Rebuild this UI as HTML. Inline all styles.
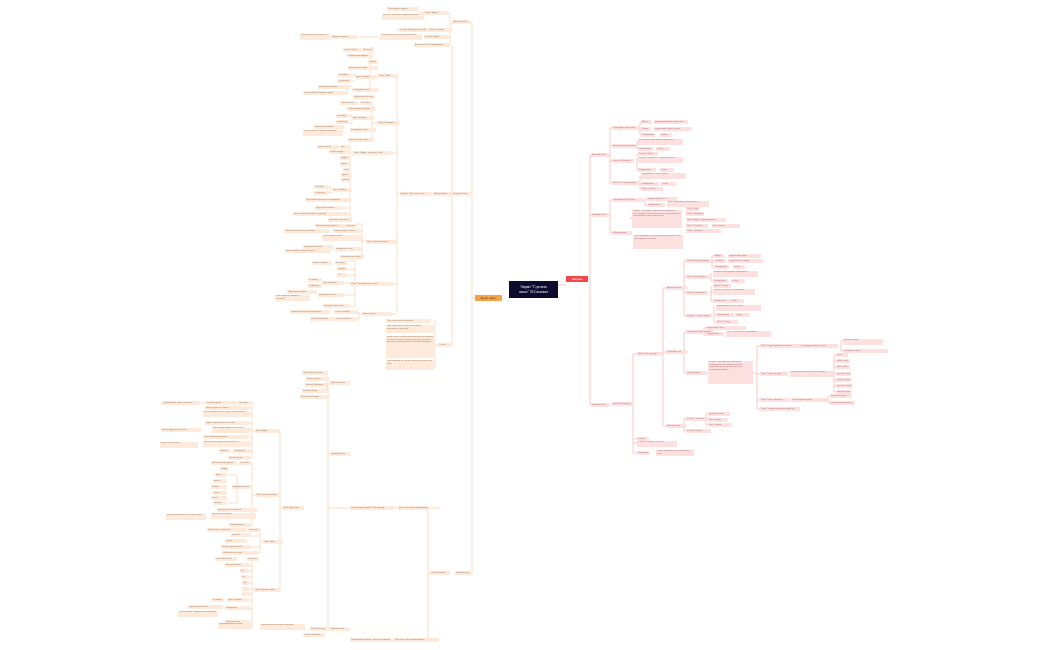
<!DOCTYPE html>
<html><head><meta charset="utf-8"><style>
html,body{margin:0;padding:0;background:#fff;width:1050px;height:650px;overflow:hidden}
#w{position:relative;width:1050px;height:650px}
svg{position:absolute;left:0;top:0}
i{position:absolute;font-style:normal;height:4px;font:2.2px/4px "Liberation Sans","Noto Sans CJK SC",sans-serif;color:#a07a5c;background:#fdeadb;white-space:nowrap;overflow:hidden;padding:0 1px;box-sizing:border-box;border-radius:.5px}
i.r{background:#fde0e0;color:#b07070}
i.t{height:6px;white-space:normal;line-height:2.6px}
</style></head><body><div id="w">
<svg width="1050" height="650" viewBox="0 0 1050 650">
<g fill="none" stroke="#f9d2ad" stroke-width="0.7">
<path d="M502 298H472M472 22V572M472 22H470M472 193H470M472 572H473"/>
<path d="M452 24H450V45H450M450 13V37M450 13H448M450 30H452M450 37H450M424 13H419M424 18H419M428 30H435M399 30H396M380 37H357M331 37H328"/>
<path d="M452 45V345H450M438 345H435V320M435 330V368H434"/>
<path d="M452 194H433M433 194H432M400 194H397M397 76V313M397 76H398M397 123H399M397 153H391M397 242H396M397 284H394M397 314H392"/>
<path d="M370 48V96M370 76H378M370 48H374M370 55H373M370 61H378M370 67H378M370 89H378M370 96H375M355 76V73M338 75H355M338 81H355M348 91V86H352"/>
<path d="M372 102V140M372 123H377M372 102H372M372 108H375M372 129H376M372 140H374M352 116V123M349 116H352M349 123H352"/>
<path d="M350 146V220M350 153H353M350 146H350M350 151H351M350 157H350M350 163H350M350 169H350M350 174H350M350 180H350M350 190H352M350 200H350M350 208H343M350 220H352M330 187V193M328 187H332M328 193H332"/>
<path d="M362 224V257M362 241H366M362 224H357M362 231H361M362 238H362M362 249H361M362 257H364M333 247V251"/>
<path d="M355 261V306M355 284H350M355 261H347M355 269H347M355 275H347M355 283H344M355 295H344M355 306H349"/>
<path d="M359 312V319M359 314H362M359 312H358M359 319H357"/>
<path d="M472 572H455M430 573H428M428 508V640M428 508H440M428 640H439M394 508H398M394 640H394"/>
<path d="M350 508H328M328 383V629M328 383H330M328 454H330M328 629H330M310 629H330"/>
<path d="M327 372V392M327 372H328M327 378H330M327 384H327M327 390H328M327 396H330"/>
<path d="M282 508H280M280 431V590M280 431H280M280 495H280M280 542H283M280 590H280"/>
<path d="M252 402V458M252 431H255M252 402H251M252 408H250M252 414H251M252 423H250M252 429H250M252 437H248M252 444H251M252 451H252M252 458H250M238 403H236M206 403H200"/>
<path d="M252 463V526M252 495H255M252 463H251M252 488H252M252 510H257M252 516H256M252 526H251M237 475V503M228 475H237M228 503H237"/>
<path d="M260 529V553M260 541H263M260 530H260M260 536H251M260 547H251M260 553H258"/>
<path d="M252 558V622M252 590H254M252 559H259M252 566H250M252 571H248M252 577H249M252 583H249M252 589H249M252 594H250M252 600H247M252 609H250M252 622H250"/>
</g>
<g fill="none" stroke="#f7b4b4" stroke-width="0.7">
<path d="M558 285H566M588 279H590M590 155V405M590 155H591M590 215H591M590 405H591"/>
<path d="M611 155H610M610 128V183M610 128H612M610 146H612M610 161H612M610 183H612M640 122V135M640 122H641M640 129H641M640 135H641M637 141V149M637 149H638M637 142H638M637 154V170M637 160H638M637 170H638M640 176V189M640 184H641M640 189H641"/>
<path d="M611 215H610M610 200V233M610 200H612M610 233H612M645 199V205M645 199H647M645 205H647M630 218H632"/>
<path d="M611 405H612M634 404H633M633 354V453M633 354H637M633 439H637M633 443H637M633 453H637"/>
<path d="M662 354H663M663 288V426M663 288H666M663 352H666M663 426H666"/>
<path d="M688 288H684M684 261V316M684 261H686M684 277H686M684 293H686M684 316H686M712 256V267M712 256H714M712 261H714M712 267H714M711 273V281M711 281H713M711 286V301M711 292H713M711 301H713M714 307V322M714 315H716M714 322H716"/>
<path d="M688 352H684M684 332V373M684 332H686M684 373H686M704 328V335M704 328H706M704 335H706M706 373H708"/>
<path d="M753 373H757M757 346V409M757 346H760M757 374H760M757 400H760M757 409H760M841 341V351M841 341H843M841 351H843M834 355V392M834 355H836M834 361H836M834 367H836M834 374H836M834 380H836M834 386H836M834 392H836M828 396V403M828 396H830M828 403H830"/>
<path d="M686 426H684M684 419V431M684 419H686M684 431H686M706 414V425M706 414H708M706 420H708M706 425H708"/>
</g>
</svg>
<div style="position:absolute;left:509px;top:281px;width:49px;height:17px;background:#0d0b2e;color:#fff;font:4px/5px 'Liberation Serif','Noto Serif CJK SC',serif;text-align:center;padding-top:3px;box-sizing:border-box">Экран "Сделать<br>заказ" Я.Самокат</div>
<div style="position:absolute;left:566px;top:276px;width:22px;height:6px;background:#f04848;color:#fff;font:2.8px/6px 'Liberation Sans',sans-serif;text-align:center">Покупка</div>
<div style="position:absolute;left:475px;top:295px;width:27px;height:6px;background:#f5a24a;color:#5a3a10;font:2.8px/6px 'Liberation Sans',sans-serif;text-align:center">Фронт работ</div>

<i style="left:387px;top:7px;width:32px">Поле ввода адреса</i>
<i class="t" style="left:382px;top:14px;width:42px">Кнопка "Изменить" адрес доставки</i>
<i style="left:424px;top:11px;width:24px">Поле "Адрес"</i>
<i style="left:452px;top:20px;width:18px">Верхний блок</i>
<i style="left:399px;top:28px;width:36px">Кнопка "Вернуться назад"</i>
<i style="left:428px;top:28px;width:24px">Кнопка "Назад"</i>
<i class="t" style="left:380px;top:34px;width:42px">При нажатии на кнопку "Изменить"</i>
<i style="left:331px;top:35px;width:26px">Модалка адреса</i>
<i class="t" style="left:300px;top:34px;width:30px">При нажатии открывается</i>
<i style="left:424px;top:35px;width:26px">Кнопка "Адрес"</i>
<i style="left:414px;top:43px;width:36px">Блок оплата и информация</i>

<i style="left:343px;top:48px;width:18px">стиль текста</i><i style="left:362px;top:48px;width:12px">тип поля</i>
<i style="left:347px;top:54px;width:26px">плейсхолдер Адрес</i><i style="left:368px;top:60px;width:10px">шрифт</i>
<i style="left:348px;top:66px;width:30px">длина поля ввода</i>
<i style="left:338px;top:73px;width:13px">по клику</i><i style="left:338px;top:79px;width:13px">по фокусу</i><i style="left:355px;top:75px;width:22px">цвет обводки</i>
<i style="left:378px;top:74px;width:20px">Поле "Мой"</i>
<i style="left:318px;top:85px;width:30px">подсказка ошибки</i><i style="left:303px;top:91px;width:45px">поле ошибки "Введите адрес"</i><i style="left:352px;top:88px;width:26px">валидация поля</i>
<i style="left:353px;top:95px;width:22px">обязательное поле</i>

<i style="left:340px;top:101px;width:18px">стиль текста</i><i style="left:360px;top:101px;width:12px">тип поля</i>
<i style="left:347px;top:107px;width:28px">плейсхолдер Кв/офис</i>
<i style="left:336px;top:114px;width:13px">по клику</i><i style="left:336px;top:120px;width:13px">по фокусу</i><i style="left:352px;top:116px;width:22px">цвет обводки</i>
<i style="left:377px;top:121px;width:22px">Поле "Квартира"</i>
<i style="left:314px;top:125px;width:30px">подсказка ошибки</i><i class="t" style="left:303px;top:130px;width:40px">поле ошибки "Введите квартиру"</i>
<i style="left:350px;top:128px;width:26px">валидация поля</i><i style="left:348px;top:138px;width:26px">обязательное поле</i>

<i style="left:317px;top:145px;width:22px">стиль текста</i><i style="left:340px;top:145px;width:10px">тип</i>
<i style="left:329px;top:150px;width:22px">плейсхолдер</i><i style="left:353px;top:151px;width:38px">Поле "Адрес, подъезд, этаж"</i>
<i style="left:340px;top:156px;width:10px">цифры</i><i style="left:340px;top:162px;width:10px">буквы</i><i style="left:343px;top:168px;width:7px">знак</i>
<i style="left:341px;top:173px;width:9px">длина</i><i style="left:341px;top:178px;width:9px">пробел</i>
<i style="left:314px;top:185px;width:14px">по клику</i><i style="left:314px;top:191px;width:14px">по фокусу</i><i style="left:332px;top:188px;width:20px">цвет обводки</i>
<i style="left:305px;top:198px;width:45px">При ошибке фокуса и валидации</i>
<i style="left:315px;top:206px;width:28px">подсказка ошибки</i><i style="left:293px;top:212px;width:55px">поле ошибки "Введите подъезд"</i>
<i style="left:328px;top:218px;width:24px">обязательное поле</i>
<i style="left:400px;top:192px;width:32px">Вопрос "Для чего связь"</i><i style="left:433px;top:192px;width:18px">Информация</i><i style="left:452px;top:192px;width:18px">Средний блок</i>

<i style="left:315px;top:224px;width:30px">максимальная длина</i><i style="left:345px;top:224px;width:12px">тип поля</i>
<i style="left:284px;top:229px;width:45px">описание заказа на странице</i><i style="left:333px;top:229px;width:28px">плейсхолдер Оплата</i>
<i class="t" style="left:322px;top:235px;width:40px">поле комментарий</i><i style="left:366px;top:240px;width:30px">Поле "Комментарий"</i>
<i style="left:303px;top:245px;width:30px">подсказка ошибки</i><i style="left:285px;top:249px;width:45px">поле ошибки "Введите текст"</i><i style="left:335px;top:247px;width:26px">валидация поля</i>
<i style="left:340px;top:255px;width:24px">обязательное поле</i>

<i style="left:312px;top:261px;width:20px">маска номера</i><i style="left:335px;top:261px;width:12px">тип поля</i>
<i style="left:337px;top:267px;width:10px">цифры</i><i style="left:337px;top:273px;width:10px">+7</i>
<i style="left:308px;top:278px;width:14px">по клику</i><i style="left:308px;top:284px;width:14px">по фокусу</i><i style="left:322px;top:281px;width:22px">цвет обводки</i>
<i style="left:350px;top:282px;width:44px">Поле "Телефон для связи"</i>
<i style="left:287px;top:290px;width:30px">подсказка ошибки</i><i class="t" style="left:275px;top:295px;width:35px">поле ошибки "Введите телефон"</i><i style="left:318px;top:293px;width:26px">валидация поля</i>
<i style="left:323px;top:304px;width:26px">обязательное поле</i>
<i style="left:290px;top:310px;width:40px">оплата картой при получении</i><i style="left:334px;top:310px;width:24px">способ оплаты</i>
<i style="left:310px;top:317px;width:25px">кнопка Изменить</i><i style="left:335px;top:317px;width:22px">способ оплаты</i><i style="left:362px;top:312px;width:30px">Блок оплаты</i>

<i style="left:386px;top:319px;width:45px">Текстовое поле описания</i>
<i class="t" style="left:386px;top:325px;width:48px;height:8px">При переходе на страницу заказа появляется описание</i>
<i class="t" style="left:386px;top:336px;width:48px;height:22px">Блок текста с описанием заказа и условиями доставки, обязательное поле для проверки данных и правильности заполнения формы</i>
<i class="t" style="left:386px;top:360px;width:48px;height:10px">При нажатии на кнопку Заказать появляется окно</i>
<i style="left:438px;top:343px;width:14px">Отзыв</i>

<i style="left:302px;top:371px;width:26px">Поле Верхний блок</i><i style="left:306px;top:377px;width:24px">Поле оплаты</i><i style="left:305px;top:383px;width:22px">Кнопка Изменить</i><i style="left:302px;top:389px;width:26px">Кнопка Назад</i><i style="left:300px;top:395px;width:30px">Кнопка Мой заказ</i>
<i style="left:330px;top:381px;width:20px">Верхний блок</i><i style="left:330px;top:452px;width:20px">Средний блок</i>
<i style="left:162px;top:401px;width:38px">отображение текста по полю</i><i style="left:206px;top:401px;width:30px">выбор адреса</i><i style="left:238px;top:401px;width:13px">тип поля</i>
<i style="left:205px;top:406px;width:45px">выбор адреса с карты</i>
<i class="t" style="left:203px;top:411px;width:48px">по нажатию на поле адрес отображается</i>
<i style="left:205px;top:421px;width:45px">адрес подставляется в поле</i>
<i class="t" style="left:212px;top:427px;width:38px">при выборе адреса из списка</i><i style="left:161px;top:428px;width:40px">выбор адреса из списка</i>
<i style="left:255px;top:429px;width:25px">Поле Адрес</i>
<i style="left:203px;top:435px;width:45px">поле подсказок адреса</i>
<i class="t" style="left:203px;top:441px;width:48px">при ошибке фокуса отображается</i><i class="t" style="left:160px;top:442px;width:38px">подсказка ошибки</i>
<i style="left:219px;top:449px;width:12px">ошибка</i><i style="left:233px;top:449px;width:18px">валидация</i><i style="left:228px;top:456px;width:22px">обязательное</i>

<i style="left:211px;top:461px;width:26px">максимальная длина</i><i style="left:239px;top:461px;width:12px">тип поля</i>
<i style="left:220px;top:467px;width:8px">цифры</i><i style="left:215px;top:473px;width:12px">дата</i><i style="left:213px;top:479px;width:14px">время</i><i style="left:211px;top:485px;width:16px">выбор</i><i style="left:213px;top:491px;width:14px">поле</i><i style="left:211px;top:496px;width:16px">часы</i><i style="left:213px;top:501px;width:14px">минуты</i>
<i style="left:232px;top:485px;width:20px">формат выбора</i><i style="left:255px;top:493px;width:25px">Поле Срок доставки</i>
<i style="left:217px;top:508px;width:40px">выбор даты и времени</i>
<i class="t" style="left:211px;top:513px;width:45px">при ошибке фокуса</i><i class="t" style="left:166px;top:514px;width:40px">подсказка ошибки "Выберите дату"</i>
<i style="left:229px;top:523px;width:22px">обязательное</i>
<i style="left:282px;top:506px;width:22px">Поле Мой заказ</i><i style="left:350px;top:506px;width:44px">Заполнение формы "Про аренду"</i><i style="left:398px;top:506px;width:30px">Для чего нужна информация</i>

<i style="left:207px;top:528px;width:40px">выбор цвета самоката</i><i style="left:248px;top:528px;width:12px">тип поля</i>
<i style="left:231px;top:533px;width:20px">черный</i><i style="left:225px;top:539px;width:22px">серый</i><i style="left:263px;top:540px;width:20px">Поле Цвет</i>
<i style="left:221px;top:545px;width:30px">выбор одного цвета</i><i style="left:222px;top:551px;width:36px">обязательное поле</i>

<i style="left:215px;top:557px;width:22px">текстовое поле</i><i style="left:247px;top:557px;width:12px">тип поля</i>
<i style="left:225px;top:563px;width:25px">максимальная</i><i style="left:240px;top:569px;width:8px">a-z</i><i style="left:241px;top:575px;width:8px">а-я</i><i style="left:242px;top:581px;width:7px">0-9</i><i style="left:242px;top:587px;width:7px">.</i><i style="left:242px;top:592px;width:8px">,</i>
<i style="left:212px;top:598px;width:12px">по клику</i><i style="left:227px;top:598px;width:20px">цвет обводки</i><i style="left:254px;top:588px;width:26px">Поле Комментарий</i>
<i style="left:188px;top:605px;width:35px">подсказка ошибки</i><i class="t" style="left:178px;top:611px;width:40px">поле ошибки "Введите комментарий"</i><i style="left:225px;top:606px;width:25px">валидация</i>
<i style="left:225px;top:620px;width:25px">обязательное</i>
<i class="t" style="left:218px;top:623px;width:35px">Информационное окно</i><i class="t" style="left:260px;top:624px;width:45px">При нажатии на кнопку Заказать</i>
<i style="left:310px;top:627px;width:20px">Кнопка Назад</i><i style="left:303px;top:633px;width:22px">Кнопка Заказать</i><i style="left:330px;top:627px;width:20px">Нижний блок</i>
<i style="left:350px;top:638px;width:44px">Заполнение формы "Для кого самокат"</i><i style="left:394px;top:638px;width:45px">Для чего нужна информация</i>
<i style="left:430px;top:571px;width:20px">Оплата заказа</i><i style="left:455px;top:571px;width:17px">Нижний блок</i>

<!-- right side -->
<i class="r" style="left:591px;top:153px;width:20px">Верхний блок</i>
<i class="r" style="left:612px;top:126px;width:28px">Поле Адрес доставки</i><i class="r" style="left:612px;top:144px;width:25px">Кнопка дата доставки</i><i class="r" style="left:612px;top:159px;width:22px">Кнопка "Изменить"</i><i class="r" style="left:612px;top:181px;width:28px">Кнопка "Статус заказа"</i>
<i class="r" style="left:641px;top:120px;width:10px">Адрес</i><i class="r" style="left:654px;top:120px;width:34px">корректный адрес доставки</i>
<i class="r" style="left:641px;top:127px;width:10px">Улица</i><i class="r" style="left:654px;top:127px;width:38px">корректный адрес улицы</i>
<i class="r" style="left:641px;top:133px;width:14px">Ожидаемое</i><i class="r" style="left:660px;top:133px;width:12px">статус</i>
<i class="r t" style="left:638px;top:139px;width:45px">кнопка даты доставки открывается</i><i class="r" style="left:638px;top:147px;width:15px">Ожидаемое</i><i class="r" style="left:656px;top:147px;width:14px">статус</i>
<i class="r" style="left:638px;top:152px;width:20px">Кнопка "Заказ"</i><i class="r t" style="left:638px;top:157px;width:45px">Кнопка "Изменить" открывает окно</i><i class="r" style="left:638px;top:168px;width:18px">Ожидаемое</i><i class="r" style="left:660px;top:168px;width:14px">статус</i>
<i class="r t" style="left:641px;top:173px;width:45px">корректный статус заказа</i><i class="r" style="left:641px;top:182px;width:18px">Ожидаемое</i><i class="r" style="left:661px;top:182px;width:15px">статус</i><i class="r" style="left:641px;top:187px;width:22px">Поле "Статус"</i>
<i class="r" style="left:591px;top:213px;width:20px">Средний блок</i>
<i class="r" style="left:612px;top:198px;width:32px">Заголовок "Про заказ"</i><i class="r" style="left:612px;top:231px;width:20px">Информация</i>
<i class="r" style="left:647px;top:197px;width:30px">корректный текст</i><i class="r" style="left:647px;top:203px;width:18px">Ожидаемое</i><i class="r t" style="left:667px;top:201px;width:42px">текст заголовка отображается</i>
<i class="r t" style="left:632px;top:210px;width:50px;height:18px">Форма "Про заказ" правильно отображает поля ввода, кнопки и текстовые подсказки для пользователя при заполнении</i>
<i class="r" style="left:686px;top:207px;width:14px">Поле "Имя"</i><i class="r" style="left:686px;top:212px;width:18px">Поле "Фамилия"</i><i class="r" style="left:686px;top:218px;width:40px">Поле "Адрес: куда привезти"</i><i class="r" style="left:686px;top:224px;width:22px">Поле "Станция"</i><i class="r" style="left:712px;top:224px;width:28px">Нет данных</i><i class="r" style="left:686px;top:229px;width:35px">Поле "Телефон"</i>
<i class="r t" style="left:633px;top:235px;width:50px;height:14px">При переходе на страницу отображаются все поля формы и кнопки</i>

<i class="r" style="left:591px;top:403px;width:18px">Нижний блок</i><i class="r" style="left:612px;top:402px;width:22px">Кнопка "Заказать"</i>
<i class="r" style="left:637px;top:352px;width:25px">Поле "Про аренду"</i>
<i class="r" style="left:637px;top:437px;width:12px">Кнопка</i><i class="r t" style="left:637px;top:441px;width:40px">Статус "Заказать" кнопки</i><i class="r" style="left:637px;top:451px;width:12px">Ожидаемое</i><i class="r t" style="left:656px;top:450px;width:38px">кнопка нажимается, открывается окно</i>
<i class="r" style="left:666px;top:286px;width:20px">Верхний блок</i><i class="r" style="left:666px;top:350px;width:20px">Средний блок</i><i class="r" style="left:666px;top:424px;width:20px">Нижний блок</i>
<i class="r" style="left:686px;top:259px;width:25px">Поле Выбор времени</i><i class="r" style="left:686px;top:275px;width:25px">Поле срок аренды</i><i class="r" style="left:686px;top:291px;width:22px">Кнопка "Изменить"</i><i class="r" style="left:686px;top:314px;width:26px">Кнопка "Статус заказа"</i>
<i class="r" style="left:714px;top:254px;width:10px">Адрес</i><i class="r" style="left:728px;top:254px;width:33px">корректный адрес</i>
<i class="r" style="left:714px;top:259px;width:12px">Станция</i><i class="r" style="left:728px;top:259px;width:35px">корректная станция</i>
<i class="r" style="left:714px;top:265px;width:15px">Ожидаемое</i><i class="r" style="left:733px;top:265px;width:12px">статус</i>
<i class="r t" style="left:713px;top:271px;width:45px">кнопка срок аренды открывается</i><i class="r" style="left:713px;top:279px;width:15px">Ожидаемое</i><i class="r" style="left:731px;top:279px;width:14px">статус</i>
<i class="r" style="left:713px;top:284px;width:18px">Кнопка "Заказ"</i><i class="r t" style="left:713px;top:289px;width:42px">Кнопка "Изменить" открывает</i><i class="r" style="left:713px;top:299px;width:18px">Ожидаемое</i><i class="r" style="left:730px;top:299px;width:14px">статус</i>
<i class="r t" style="left:716px;top:305px;width:45px">корректный статус заказа</i><i class="r" style="left:716px;top:313px;width:18px">Ожидаемое</i><i class="r" style="left:735px;top:313px;width:15px">статус</i><i class="r" style="left:716px;top:320px;width:22px">Поле "Статус"</i>
<i class="r" style="left:686px;top:330px;width:28px">Заголовок "Про аренду"</i><i class="r" style="left:706px;top:326px;width:40px">корректный текст</i><i class="r" style="left:706px;top:332px;width:18px">Ожидаемое</i><i class="r t" style="left:726px;top:331px;width:45px">текст заголовка отображается</i>
<i class="r" style="left:686px;top:371px;width:20px">Информация</i>
<i class="r t" style="left:708px;top:361px;width:45px;height:23px">Форма "Про аренду" правильно отображает поля ввода, кнопки и подсказки для пользователя при заполнении формы</i>
<i class="r" style="left:760px;top:344px;width:40px">Поле "Когда привезти самокат"</i><i class="r" style="left:800px;top:344px;width:38px">календарь выбора даты</i><i class="r t" style="left:843px;top:339px;width:40px">выбрать дату</i><i class="r" style="left:843px;top:349px;width:45px">выбранная дата</i>
<i class="r" style="left:760px;top:372px;width:28px">Поле "Срок аренды"</i><i class="r t" style="left:790px;top:371px;width:45px">выпадающий список срок аренды</i>
<i class="r" style="left:836px;top:353px;width:12px">сутки</i><i class="r" style="left:836px;top:359px;width:14px">двое суток</i><i class="r" style="left:836px;top:365px;width:14px">трое суток</i><i class="r" style="left:836px;top:372px;width:15px">четверо суток</i><i class="r" style="left:836px;top:378px;width:15px">пятеро суток</i><i class="r" style="left:836px;top:384px;width:16px">шестеро суток</i><i class="r" style="left:836px;top:390px;width:15px">семеро суток</i>
<i class="r" style="left:760px;top:398px;width:30px">Поле "Цвет самоката"</i><i class="r" style="left:791px;top:398px;width:38px">выбор одного цвета</i><i class="r" style="left:830px;top:394px;width:22px">черный жемчуг</i><i class="r" style="left:830px;top:401px;width:25px">серая безысходность</i>
<i class="r" style="left:760px;top:407px;width:40px">Поле "Комментарий для курьера"</i>
<i class="r" style="left:686px;top:417px;width:25px">Кнопка "Заказать"</i><i class="r" style="left:686px;top:429px;width:25px">Кнопка "Назад"</i>
<i class="r" style="left:708px;top:412px;width:22px">размер кнопки</i><i class="r" style="left:708px;top:418px;width:20px">цвет кнопки</i><i class="r" style="left:708px;top:423px;width:24px">текст кнопки</i>
</div></body></html>
